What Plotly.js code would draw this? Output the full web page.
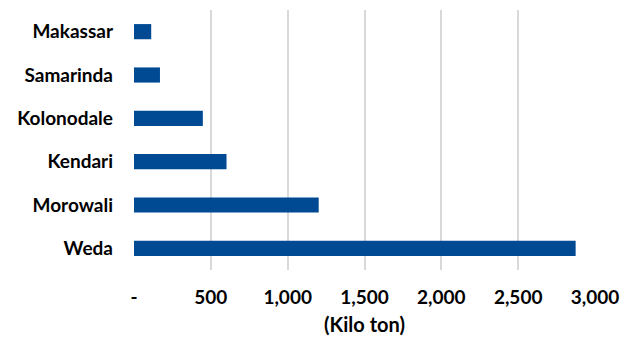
<!DOCTYPE html>
<html>
<head>
<meta charset="utf-8">
<script src="https://cdn.plot.ly/plotly-3.0.1.min.js"></script>
<style>html,body{margin:0;padding:0;background:#fff;}#chart{width:633px;height:345px;}</style>
</head>
<body>
<div id="chart"></div>
<script>
const categories = ["Makassar", "Samarinda", "Kolonodale", "Kendari", "Morowali", "Weda"];
const values = [112, 169, 448, 602, 1202, 2874];
const tickValues = [0, 500, 1000, 1500, 2000, 2500, 3000];
const tickLabels = ["-", "500", "1,000", "1,500", "2,000", "2,500", "3,000"];
const xTitle = "(Kilo ton)";

const fontFamily = "Lato, 'Open Sans', sans-serif";

Plotly.newPlot("chart", [{
  type: "bar",
  orientation: "h",
  y: categories,
  x: values,
  marker: {color: "#004A93"},
  hoverinfo: "x+y"
}], {
  width: 633,
  height: 345,
  margin: {l: 134, r: 38, t: 10, b: 75},
  paper_bgcolor: "#fff",
  plot_bgcolor: "#fff",
  bargap: 0.65,
  showlegend: false,
  font: {family: fontFamily, color: "#000", size: 19, weight: "bold"},
  xaxis: {
    range: [0, 3000],
    tickvals: tickValues,
    ticktext: tickLabels,
    showgrid: true,
    gridcolor: "#d9d9d9",
    gridwidth: 2,
    zeroline: false,
    showline: false,
    ticks: "",
    ticklabelstandoff: 14,
    tickfont: {family: fontFamily, size: 19, weight: "bold", color: "#000"},
    title: {text: xTitle, font: {family: fontFamily, size: 20, weight: "bold", color: "#000"}, standoff: 10}
  },
  yaxis: {
    categoryorder: "array",
    categoryarray: categories.slice().reverse(),
    showgrid: false,
    zeroline: false,
    showline: false,
    ticks: "",
    ticklabelstandoff: 20,
    tickfont: {family: fontFamily, size: 19, weight: "bold", color: "#000"}
  }
}, {displayModeBar: false, staticPlot: true});
</script>
</body>
</html>
